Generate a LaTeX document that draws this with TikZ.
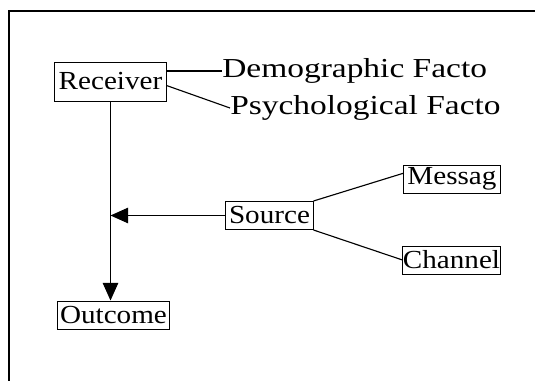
\documentclass[tikz,border=0pt]{standalone}
\usepackage{fontspec}
\setmainfont{Liberation Serif}
\usetikzlibrary{arrows.meta,positioning,calc}
\newfontfamily\boxfont[FakeStretch=1.12]{Liberation Serif}
\newfontfamily\factorfont[FakeStretch=1.22]{Liberation Serif}
\tikzset{
  termbox/.style  ={draw,line width=0.7pt,inner sep=0pt,
                     font=\boxfont\fontsize{18.5}{22}\selectfont,
                     minimum width=2.4cm,minimum height=0.7cm},
  factor/.style   ={anchor=west,inner sep=0pt,font=\factorfont\fontsize{19.5}{23}\selectfont},
  link/.style     ={line width=0.8pt},
  flow/.style     ={-{Triangle[length=12.5pt,width=11pt]},line width=0.8pt},
}
\begin{document}
\begin{tikzpicture}[x=0.025cm,y=-0.025cm]
\useasboundingbox (0,0) rectangle (535,381);
% ---- frame ----
\draw[line width=1.1pt] (535,11) -- (9,11) -- (9,381);
% ---- receiver and its factors ----
\node[termbox,minimum width=2.775cm,minimum height=0.975cm] (rec) at (110.5,81.5) {Receiver};
\node[factor] (dem) at (222,71)  {Demographic Facto};
\node[factor] (psy) at (230,108) {Psychological Facto};
\draw[link] (rec.east |- dem.west) -- (dem.west);
\draw[link] ($(rec.north east)!0.6!(rec.south east)$) -- (psy.west);
% ---- source and its parts ----
\node[termbox,minimum width=2.175cm] (src) at (269.5,215.5) {Source};
\node[termbox,minimum width=2.4cm]   (msg) at (452,179)     {Messag};
\node[termbox,minimum width=2.375cm] (chn) at (451.5,260)   {Channel};
\draw[link] (src.north east) -- ($(msg.north west)!0.3!(msg.south west)$);
\draw[link] (src.south east) -- (chn.west);
% ---- outcome ----
\node[termbox,minimum width=2.775cm] (out) at (113.5,315) {Outcome};
\coordinate (join) at (rec.south |- src.west);
\draw[flow] (rec.south) -- (rec.south |- out.north);
\draw[flow] (src.west) -- (join);
\end{tikzpicture}
\end{document}
